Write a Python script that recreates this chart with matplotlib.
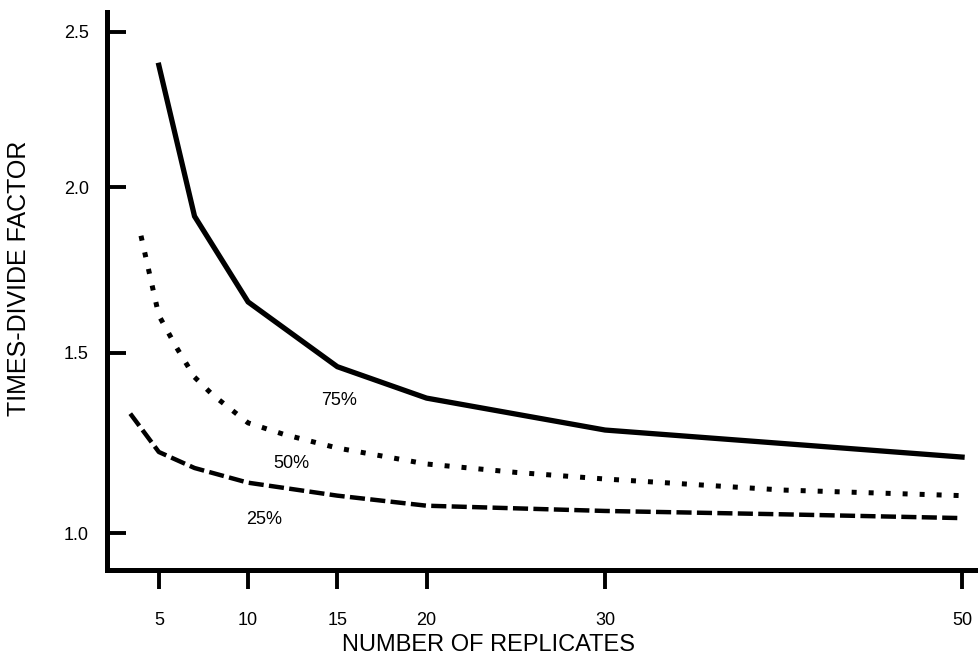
import numpy as np
import matplotlib
matplotlib.use("Agg")
import matplotlib.pyplot as plt

plt.rcParams['font.family'] = ['Liberation Sans', 'DejaVu Sans']

# values
x75 = [5, 7, 10, 15, 20, 30, 50]
y75 = [2.39, 1.91, 1.65, 1.46, 1.37, 1.28, 1.205]

x50 = [4, 5, 6, 7, 8, 10, 12, 15, 20, 25, 30, 40, 50]
y50 = [1.85, 1.61, 1.515, 1.43, 1.38, 1.30, 1.268, 1.23, 1.186, 1.163, 1.145, 1.115, 1.10]

x25 = [3.4, 5, 7, 10, 15, 20, 30, 40, 50]
y25 = [1.326, 1.219, 1.175, 1.135, 1.10, 1.073, 1.059, 1.05, 1.04]

xticks = [5, 10, 15, 20, 30, 50]
yticks = [1.0, 1.5, 2.0, 2.5]
ytick_labels = ["1.0", "1.5", "2.0", "2.5"]


# the printed y axis is slightly compressed towards the top
def fwd(y):
    return np.sign(y) * np.abs(y) ** 0.75


def inv(y):
    return np.sign(y) * np.abs(y) ** (1 / 0.75)


fig = plt.figure(figsize=(9.79, 6.6), dpi=100)
ax = fig.add_axes([0.109, 0.136, 0.891, 0.846])

ax.plot(x75, y75, color='black', lw=3.8, solid_joinstyle='miter')
ax.plot(x50, y50, color='black', lw=3.6, linestyle=(0, (1, 2.4)),
        dash_capstyle='butt')
ax.plot(x25, y25, color='black', lw=3.2, linestyle=(0, (3.4, 1.2)),
        dash_capstyle='butt')

ax.text(15.1, 1.362, "75%", fontsize=13, ha='center', va='center')
ax.text(12.4, 1.188, "50%", fontsize=13, ha='center', va='center')
ax.text(10.9, 1.036, "25%", fontsize=13, ha='center', va='center')

ax.set_yscale('function', functions=(fwd, inv))
ax.set_xlim(2.08, 50.95)
ax.set_ylim(0.904, 2.566)

ax.set_xticks(xticks)
ax.set_xticklabels([str(t) for t in xticks])
ax.set_yticks(yticks)
ax.set_yticklabels(ytick_labels)
ax.minorticks_off()

ax.spines['top'].set_visible(False)
ax.spines['right'].set_visible(False)
ax.spines['left'].set_linewidth(3.6)
ax.spines['bottom'].set_linewidth(3.6)

ax.tick_params(axis='x', direction='out', length=14, width=2.8, pad=16,
               labelsize=13)
ax.tick_params(axis='y', direction='in', length=14, width=2.8, pad=13,
               labelsize=13)

ax.set_xlabel("NUMBER OF REPLICATES", fontsize=17)
ax.set_ylabel("TIMES-DIVIDE FACTOR", fontsize=18)
ax.xaxis.set_label_coords(0.438, -0.115)
ax.yaxis.set_label_coords(-0.087, 0.523)

fig.savefig("out.png", dpi=100)
